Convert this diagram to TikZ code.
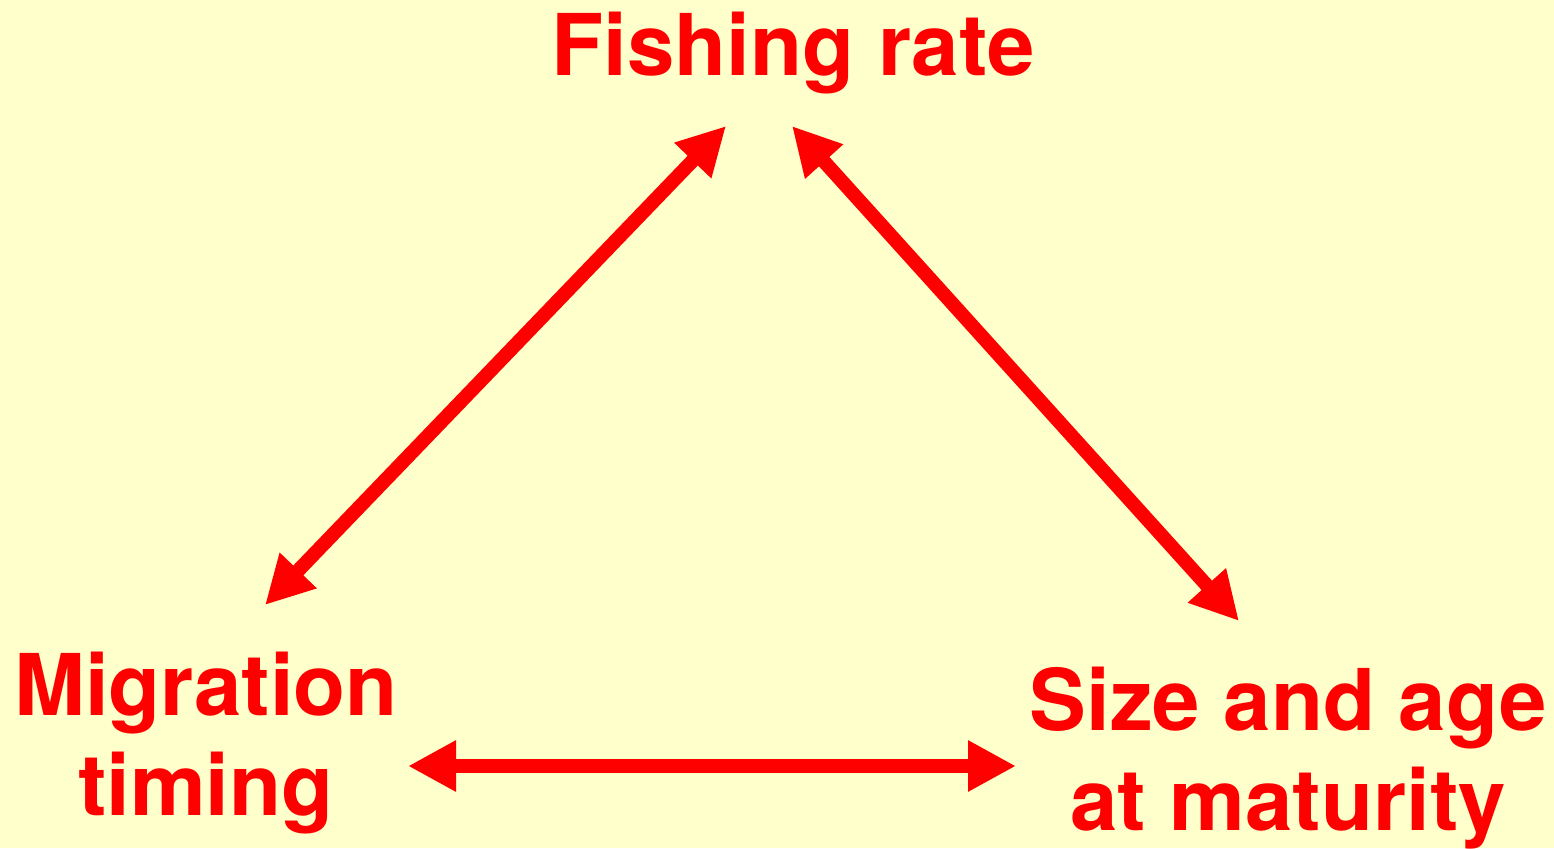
\documentclass[tikz,border=0pt]{standalone}
\usepackage{fontspec}
\setmainfont{TeX Gyre Heros}
\usetikzlibrary{arrows.meta}
\definecolor{bg}{HTML}{FFFFCC}
\definecolor{fg}{HTML}{FF0000}
\begin{document}
\begin{tikzpicture}[x=0.5pt,y=-0.5pt,
  lbl/.style={text=fg,font=\fontsize{42.6}{50}\selectfont\bfseries,inner sep=0pt,anchor=base},
  link/.style={draw=fg,line width=7pt,{Triangle[length=24pt,width=24pt]}-{Triangle[length=24pt,width=24pt]}}]
\fill[bg] (0,0) rectangle (1554,848);
\useasboundingbox (0,0) rectangle (1554,848);
\node[lbl] (fish) at (793,75) {Fishing rate};
\node[lbl] (migA) at (206,715) {Migration};
\node[lbl] (migB) at (206,815) {timing};
\node[lbl] (sizeA) at (1288,730) {Size and age};
\node[lbl] (sizeB) at (1288,830) {at maturity};
\coordinate (fl) at (726,126);
\coordinate (fr) at (792,126);
\coordinate (mt) at (265,605);
\coordinate (mr) at (408,766);
\coordinate (sl) at (1016,766);
\coordinate (st) at (1239,621);
\draw[link] (mt) -- (fl);
\draw[link] (fr) -- (st);
\draw[link] (mr) -- (sl);
\end{tikzpicture}
\end{document}
